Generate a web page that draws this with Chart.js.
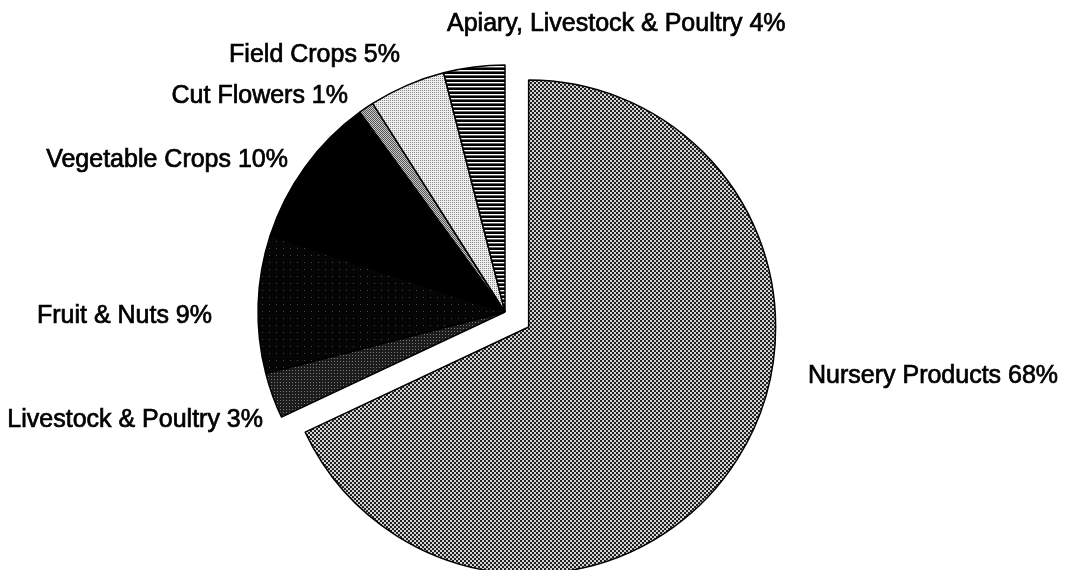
<!DOCTYPE html>
<html>
<head>
<meta charset="utf-8">
<script src="https://cdn.jsdelivr.net/npm/chart.js@4.4.1/dist/chart.umd.min.js"></script>
<style>
  html, body { margin: 0; padding: 0; background: #fff; }
  .chart-box { width: 1073px; height: 570px; }
</style>
</head>
<body>
<div class="chart-box"><canvas id="myChart"></canvas></div>
<script>
// data
const categories = [
  'Nursery Products',
  'Livestock & Poultry',
  'Fruit & Nuts',
  'Vegetable Crops',
  'Cut Flowers',
  'Field Crops',
  'Apiary, Livestock & Poultry'
];
const shares = [68, 3, 9, 10, 1, 5, 4];
const labelTexts = categories.map((c, i) => c + ' ' + shares[i] + '%');

// layout bits (not data)
const pushOut = [28, 0, 0, 0, 0, 0, 0];
const labelSpots = [
  { dx: 303, dy: 71, align: 'left' },
  { dx: -242, dy: 115, align: 'right' },
  { dx: -293, dy: 11, align: 'right' },
  { dx: -217, dy: -145, align: 'right' },
  { dx: -157, dy: -209, align: 'right' },
  { dx: -105, dy: -250, align: 'right' },
  { dx: -58, dy: -281, align: 'left' }
];

const ctx = document.getElementById('myChart').getContext('2d');

// little halftone tiles to imitate the printed shading
function tile(w, h, paint) {
  const c = document.createElement('canvas');
  c.width = w;
  c.height = h;
  paint(c.getContext('2d'));
  return ctx.createPattern(c, 'repeat');
}

const fills = [
  tile(4, 4, g => {
    g.fillStyle = '#d4d4d4'; g.fillRect(0, 0, 4, 4);
    g.fillStyle = '#202020'; g.fillRect(0, 0, 2, 2); g.fillRect(2, 2, 2, 2);
  }),
  tile(3, 3, g => {
    g.fillStyle = '#1c1c1c'; g.fillRect(0, 0, 3, 3);
    g.fillStyle = '#7a7a7a'; g.fillRect(1, 1, 1, 1);
  }),
  tile(7, 7, g => {
    g.fillStyle = '#050505'; g.fillRect(0, 0, 7, 7);
    g.fillStyle = '#4a4a4a'; g.fillRect(3, 3, 1, 1);
  }),
  '#000000',
  tile(2, 2, g => {
    g.fillStyle = '#c8c8c8'; g.fillRect(0, 0, 2, 2);
    g.fillStyle = '#555555'; g.fillRect(0, 0, 1, 1); g.fillRect(1, 1, 1, 1);
  }),
  tile(2, 2, g => {
    g.fillStyle = '#eeeeee'; g.fillRect(0, 0, 2, 2);
    g.fillStyle = '#8a8a8a'; g.fillRect(0, 0, 1, 1);
  }),
  tile(4, 4, g => {
    g.fillStyle = '#000000'; g.fillRect(0, 0, 4, 4);
    g.fillStyle = '#ffffff'; g.fillRect(0, 2, 4, 1);
    g.fillStyle = '#666666'; g.fillRect(0, 3, 4, 1);
  })
];

const explode = {
  id: 'explode',
  afterDatasetUpdate(chart, args) {
    chart.getDatasetMeta(args.index).data.forEach((arc, i) => {
      const push = pushOut[i];
      if (!push) return;
      const mid = (arc.startAngle + arc.endAngle) / 2;
      arc.x += Math.cos(mid) * push;
      arc.y += Math.sin(mid) * push;
    });
  }
};

const sliceLabels = {
  id: 'sliceLabels',
  afterDraw(chart) {
    const { ctx: c, chartArea } = chart;
    const cx = (chartArea.left + chartArea.right) / 2;
    const cy = (chartArea.top + chartArea.bottom) / 2;
    c.save();
    c.font = '25px "Liberation Sans", Arial, sans-serif';
    c.fillStyle = '#000';
    c.strokeStyle = '#000';
    c.lineWidth = 0.7;
    c.textBaseline = 'alphabetic';
    labelTexts.forEach((t, i) => {
      const s = labelSpots[i];
      c.textAlign = s.align;
      c.fillText(t, cx + s.dx, cy + s.dy);
      c.strokeText(t, cx + s.dx, cy + s.dy);
    });
    c.restore();
  }
};

// eslint-disable-next-line
const chart = new Chart(ctx, {
  type: 'pie',
  data: {
    labels: categories,
    datasets: [
      {
        data: shares,
        backgroundColor: fills,
        borderColor: '#000',
        borderWidth: 1.5,
        radius: 247,
        clip: false,
      },
    ],
  },
  options: {
    responsive: true,
    maintainAspectRatio: false,
    animation: false,
    events: [],
    layout: { padding: { top: 54, right: 63, bottom: 0, left: 0 } },
    plugins: {
      legend: { display: false },
      tooltip: { enabled: false },
    },
  },
  plugins: [explode, sliceLabels],
});
</script>
</body>
</html>
